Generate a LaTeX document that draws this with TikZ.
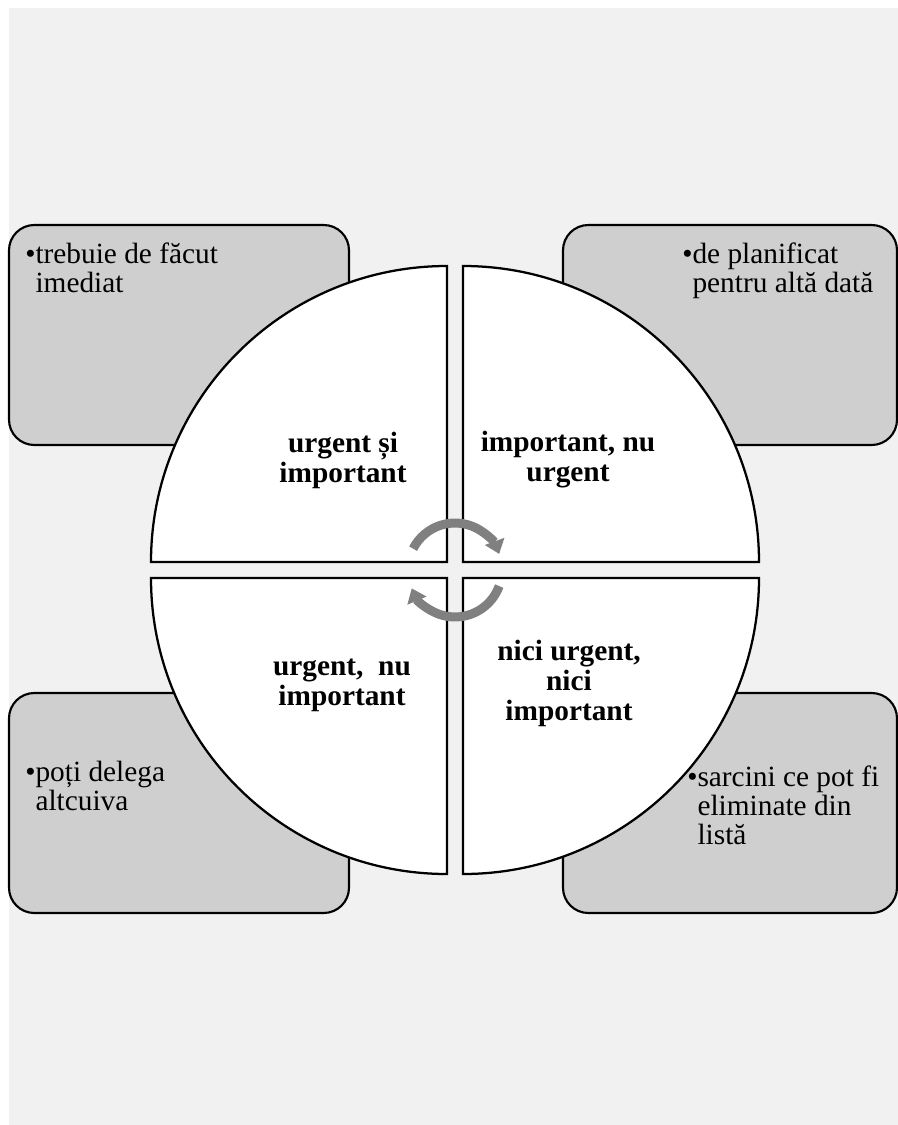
\documentclass[tikz,border=0pt]{standalone}
\usepackage{fontspec}
\setmainfont{Liberation Serif}
\usepackage{xcolor}
\usetikzlibrary{arrows.meta, calc}

\definecolor{pagebg}{HTML}{F1F1F1}
\definecolor{boxgray}{HTML}{CFCFCF}
\definecolor{cyclegray}{HTML}{808080}

\tikzset{
  sidebox/.style={
    draw, rounded corners=19pt, line width=1.6pt, fill=boxgray,
    inner sep=0pt
  },
  quadrant/.style={
    draw, line width=1.7pt, fill=white
  },
  quadlabel/.style={
    font=\fontsize{22}{22.5}\selectfont\bfseries, inner sep=0pt
  },
  boxtext/.style={
    font=\fontsize{22}{22}\selectfont, inner sep=0pt, anchor=base west
  },
  cyclearrow/.style={
    -{Triangle[width=15pt, length=10pt]}, line width=6.75pt, color=cyclegray
  },
}

\begin{document}
\begin{tikzpicture}[x=0.75pt, y=0.75pt]
  \useasboundingbox (0,0) rectangle (898,-1125);
  % Background
  \fill[pagebg] (9,-8) rectangle (898,-1125);

  % Outer boxes
  \node[sidebox, minimum width=255pt, minimum height=165pt] (tlbox) at (179,-335) {};
  \node[sidebox, minimum width=250.5pt, minimum height=165pt] (trbox) at (730,-335) {};
  \node[sidebox, minimum width=255pt, minimum height=165pt] (blbox) at (179,-803) {};
  \node[sidebox, minimum width=250.5pt, minimum height=165pt] (brbox) at (730,-803) {};

  % Circle quadrants
  \draw[quadrant] (447,-562) -- (151,-562) arc[start angle=180, end angle=90, radius=296] -- cycle;
  \draw[quadrant] (463,-562) -- (463,-266) arc[start angle=90, end angle=0, radius=296] -- cycle;
  \draw[quadrant] (447,-578) -- (447,-874) arc[start angle=270, end angle=180, radius=296] -- cycle;
  \draw[quadrant] (463,-578) -- (759,-578) arc[start angle=0, end angle=-90, radius=296] -- cycle;

  % Quadrant labels
  \node[quadlabel, anchor=base] (urgimp) at (343,-452)
    {\begin{tabular}[t]{@{}c@{}}urgent și\\important\end{tabular}};
  \node[quadlabel, anchor=base] (impnu) at (568,-451)
    {\begin{tabular}[t]{@{}c@{}}important, nu\\urgent\end{tabular}};
  \node[quadlabel, anchor=base] (urgnu) at (342,-675)
    {\begin{tabular}[t]{@{}c@{}}urgent,\ \ nu\\important\end{tabular}};
  \node[quadlabel, anchor=base] (nici) at (569,-660)
    {\begin{tabular}[t]{@{}c@{}}nici urgent,\\nici\\important\end{tabular}};

  % Box texts
  \node[boxtext] (tltext) at (25,-263)
    {\textbullet\begin{tabular}[t]{@{}l@{}}trebuie de făcut\\imediat\end{tabular}};
  \node[boxtext] (trtext) at (682,-263)
    {\textbullet\begin{tabular}[t]{@{}l@{}}de planificat\\pentru altă dată\end{tabular}};
  \node[boxtext] (bltext) at (25,-781)
    {\textbullet\begin{tabular}[t]{@{}l@{}}poți delega\\altcuiva\end{tabular}};
  \node[boxtext] (brtext) at (687,-786)
    {\textbullet\begin{tabular}[t]{@{}l@{}}sarcini ce pot fi\\eliminate din\\listă\end{tabular}};

  % Cycle arrows
  \coordinate (hub) at (455,-570);
  \draw[cyclearrow] ([shift={(153:47)}]hub) arc[start angle=153, end angle=20, radius=47];
  \draw[cyclearrow] ([shift={(-20:47)}]hub) arc[start angle=-20, end angle=-157, radius=47];
\end{tikzpicture}
\end{document}
